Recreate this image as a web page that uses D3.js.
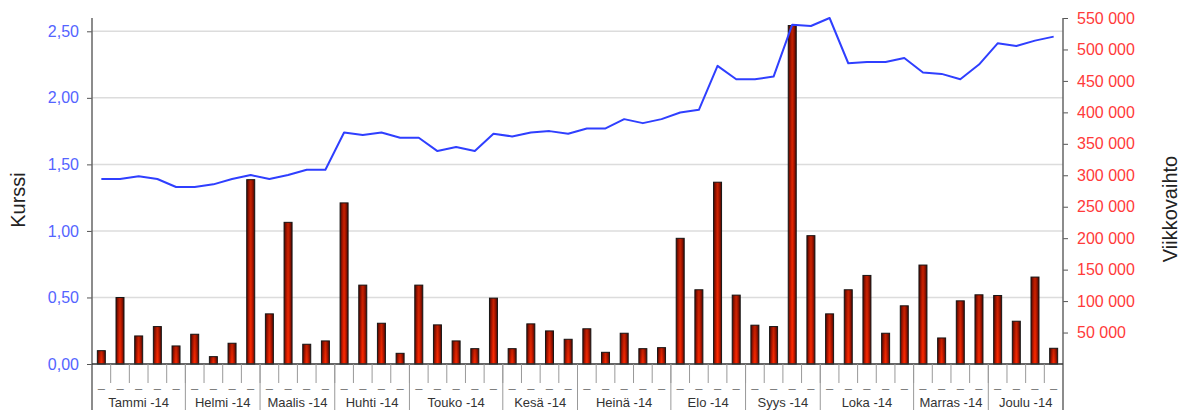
<!DOCTYPE html>
<html>
<head>
<meta charset="utf-8">
<script src="https://cdn.jsdelivr.net/npm/d3@7"></script>
<style>
  body { margin: 0; background: #fff; }
  svg { display: block; font-family: "Liberation Sans", Arial, sans-serif; }
</style>
</head>
<body>
<div class="canvas"></div>
<script>
const dims = { width: 1187, height: 410 }
const plot = { left: 92, right: 1063, top: 18, bottom: 364 }

// data
const weeks = d3.range(1, 53)
const months = ['Tammi -14', 'Helmi -14', 'Maalis -14', 'Huhti -14', 'Touko -14', 'Kesä -14',
  'Heinä -14', 'Elo -14', 'Syys -14', 'Loka -14', 'Marras -14', 'Joulu -14']
const monthWeeks = [5, 4, 4, 4, 5, 4, 5, 4, 4, 5, 4, 4]
const kurssi = [1.39, 1.39, 1.41, 1.39, 1.33, 1.33, 1.35, 1.39, 1.42, 1.39, 1.42, 1.46, 1.46,
  1.74, 1.72, 1.74, 1.70, 1.70, 1.60, 1.63, 1.60, 1.73, 1.71, 1.74, 1.75, 1.73,
  1.77, 1.77, 1.84, 1.81, 1.84, 1.89, 1.91, 2.24, 2.14, 2.14, 2.16, 2.55, 2.54,
  2.60, 2.26, 2.27, 2.27, 2.30, 2.19, 2.18, 2.14, 2.25, 2.41, 2.39, 2.43, 2.46]
const vaihto = [21200, 105700, 44600, 59500, 28700, 47300, 11700, 33000, 293000, 79700, 225200, 31400, 36700,
  256100, 125400, 64800, 17000, 125400, 62200, 36700, 24400, 104700, 24400, 63800, 52600, 39300,
  56000, 18600, 48900, 24400, 26000, 199800, 118000, 289000, 109500, 61700, 59500, 538000, 204000,
  79700, 118000, 140800, 48900, 92500, 157300, 41400, 100400, 110000, 108900, 68000, 138200, 25000]
const leftTicks = [0, 0.5, 1, 1.5, 2, 2.5]
const rightTicks = d3.range(50000, 550001, 50000)

const fi = d3.formatLocale({ decimal: ',', thousands: ' ', grouping: [3], currency: ['', ''] })

const svg = d3.select('.canvas')
  .append('svg')
  .attr('width', dims.width)
  .attr('height', dims.height)

// bar gradients (dark edges, bright centre)
const defs = svg.append('defs')
const hg = defs.append('linearGradient').attr('id', 'barH')
  .attr('x1', 0).attr('x2', 1).attr('y1', 0).attr('y2', 0)
hg.append('stop').attr('offset', '0%').attr('stop-color', '#5a0900')
hg.append('stop').attr('offset', '35%').attr('stop-color', '#e01e00')
hg.append('stop').attr('offset', '50%').attr('stop-color', '#ff2c00')
hg.append('stop').attr('offset', '65%').attr('stop-color', '#e01e00')
hg.append('stop').attr('offset', '100%').attr('stop-color', '#5a0900')
const vg = defs.append('linearGradient').attr('id', 'barV')
  .attr('x1', 0).attr('x2', 0).attr('y1', 0).attr('y2', 1)
vg.append('stop').attr('offset', '0%').attr('stop-color', '#000').attr('stop-opacity', 0.25)
vg.append('stop').attr('offset', '100%').attr('stop-color', '#000').attr('stop-opacity', 0)

// scales
const x = d3.scaleBand().domain(weeks).range([plot.left, plot.right])
const yL = d3.scaleLinear().domain([0, 2.6]).range([plot.bottom, plot.top])
const yR = d3.scaleLinear().domain([0, 550000]).range([plot.bottom, plot.top])

// gridlines
svg.append('g')
  .selectAll('line')
  .data(leftTicks.filter(d => d > 0))
  .enter().append('line')
    .attr('x1', plot.left).attr('x2', plot.right)
    .attr('y1', d => yL(d)).attr('y2', d => yL(d))
    .attr('stroke', '#dcdcdc')
    .attr('stroke-width', 1.5)

// bars
const barW = 8
const bars = svg.append('g')
bars.selectAll('.bar')
  .data(weeks)
  .enter().append('rect')
    .attr('class', 'bar')
    .attr('x', d => x(d) + x.bandwidth() / 2 - barW / 2)
    .attr('y', (d, i) => yR(vaihto[i]))
    .attr('width', barW)
    .attr('height', (d, i) => plot.bottom - yR(vaihto[i]))
    .attr('fill', 'url(#barH)')
    .attr('stroke', '#1a1a1a')
    .attr('stroke-width', 1)
bars.selectAll('.shade')
  .data(weeks)
  .enter().append('rect')
    .attr('class', 'shade')
    .attr('x', d => x(d) + x.bandwidth() / 2 - barW / 2)
    .attr('y', (d, i) => yR(vaihto[i]))
    .attr('width', barW)
    .attr('height', (d, i) => plot.bottom - yR(vaihto[i]))
    .attr('fill', 'url(#barV)')

// line
svg.append('path')
  .datum(kurssi)
  .attr('fill', 'none')
  .attr('stroke', '#2f3fff')
  .attr('stroke-width', 2)
  .attr('stroke-linejoin', 'round')
  .attr('d', d3.line()
    .x((d, i) => x(weeks[i]) + x.bandwidth() / 2)
    .y(d => yL(d)))

// left axis
const leftAxis = svg.append('g')
  .attr('transform', `translate(${plot.left}, 0)`)
  .call(d3.axisLeft(yL).tickValues(leftTicks).tickFormat(fi.format('.2f')).tickSize(5).tickPadding(8))
leftAxis.select('.domain').remove()
leftAxis.selectAll('line').attr('stroke', '#555')
leftAxis.selectAll('text').attr('fill', '#5464ff').attr('font-size', 16)
  .attr('font-family', '"Liberation Sans", Arial, sans-serif')

// right axis
const rightAxis = svg.append('g')
  .attr('transform', `translate(${plot.right}, 0)`)
  .call(d3.axisRight(yR).tickValues(rightTicks).tickFormat(fi.format(',d')).tickSize(5).tickPadding(9))
rightAxis.select('.domain').remove()
rightAxis.selectAll('line').attr('stroke', '#555')
rightAxis.selectAll('text').attr('fill', '#ff3a3a').attr('font-size', 16)
  .attr('font-family', '"Liberation Sans", Arial, sans-serif')

// vertical axis lines
svg.append('line')
  .attr('x1', plot.left).attr('x2', plot.left)
  .attr('y1', plot.top).attr('y2', dims.height)
  .attr('stroke', '#666').attr('stroke-width', 1.5)
svg.append('line')
  .attr('x1', plot.right).attr('x2', plot.right)
  .attr('y1', plot.top).attr('y2', dims.height)
  .attr('stroke', '#666').attr('stroke-width', 1.5)

// x axis baseline
svg.append('line')
  .attr('x1', plot.left).attr('x2', plot.right)
  .attr('y1', plot.bottom).attr('y2', plot.bottom)
  .attr('stroke', '#333').attr('stroke-width', 1.5)

// week ticks and dashes
const xg = svg.append('g')
xg.selectAll('.wtick')
  .data(weeks.slice(1))
  .enter().append('line')
    .attr('class', 'wtick')
    .attr('x1', d => x(d)).attr('x2', d => x(d))
    .attr('y1', plot.bottom).attr('y2', plot.bottom + 19)
    .attr('stroke', '#999')
xg.selectAll('.wlabel')
  .data(weeks)
  .enter().append('text')
    .attr('class', 'wlabel')
    .attr('x', d => x(d) + x.bandwidth() / 2)
    .attr('y', plot.bottom + 29)
    .attr('text-anchor', 'middle')
    .attr('font-size', 13)
    .attr('fill', '#777')
    .text('–')

// month separators and labels
let start = 0
const monthData = months.map((name, i) => {
  const m = { name, first: weeks[start], last: weeks[start + monthWeeks[i] - 1] }
  start += monthWeeks[i]
  return m
})
xg.selectAll('.msep')
  .data(monthData.slice(0, -1))
  .enter().append('line')
    .attr('class', 'msep')
    .attr('x1', d => x(d.last) + x.bandwidth()).attr('x2', d => x(d.last) + x.bandwidth())
    .attr('y1', plot.bottom).attr('y2', dims.height)
    .attr('stroke', '#999')
xg.selectAll('.mlabel')
  .data(monthData)
  .enter().append('text')
    .attr('class', 'mlabel')
    .attr('x', d => (x(d.first) + x(d.last) + x.bandwidth()) / 2)
    .attr('y', 407)
    .attr('text-anchor', 'middle')
    .attr('font-size', 13)
    .attr('fill', '#333')
    .text(d => d.name)

// axis titles
svg.append('text')
  .attr('transform', 'translate(25, 200) rotate(-90)')
  .attr('text-anchor', 'middle')
  .attr('font-size', 20)
  .attr('fill', '#222')
  .text('Kurssi')
svg.append('text')
  .attr('transform', 'translate(1177, 209) rotate(-90)')
  .attr('text-anchor', 'middle')
  .attr('font-size', 20)
  .attr('fill', '#222')
  .text('Viikkovaihto')
</script>
</body>
</html>
